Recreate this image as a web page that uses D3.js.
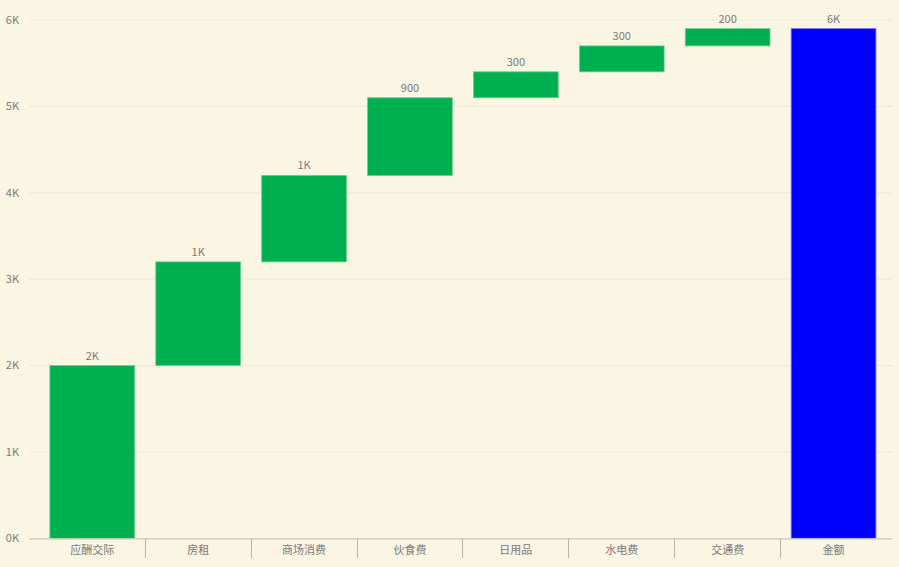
<!DOCTYPE html>
<html>
<head>
<meta charset="utf-8" />
<title>Waterfall</title>
<style>
html, body { margin: 0; padding: 0; background: #fbf5e3; }
#chart { width: 899px; height: 567px; }
text { font-family: "Segoe UI", "Noto Sans CJK SC", "Noto Sans", sans-serif; }
</style>
</head>
<body>
<div id="chart"></div>
<script src="https://cdn.jsdelivr.net/npm/d3@7/dist/d3.min.js"></script>
<script>
// data
var categories = ["应酬交际", "房租", "商场消费", "伙食费", "日用品", "水电费", "交通费", "金额"]
var amounts = [2000, 1200, 1000, 900, 300, 300, 200]
var totalLabel = "金额"
var yTicks = [0, 1000, 2000, 3000, 4000, 5000, 6000]

!(function(){
    "use strict"

    var width = 899, height = 567
    var svg = d3.select("#chart").append("svg")
        .attr("width", width).attr("height", height)

    // cumulative steps
    var rows = [], run = 0
    amounts.forEach(function(v, i) {
        rows.push({ name: categories[i], start: run, end: run + v, value: v, total: false })
        run += v
    })
    rows.push({ name: totalLabel, start: 0, end: run, value: run, total: true })

    var x = d3.scaleBand().domain(categories).range([39.3, 886.5]).paddingInner(0.2).paddingOuter(0.1)
    var y = d3.scaleLinear().domain([0, 6000]).range([538.3, 20])

    var fmt = function(v) { return v >= 1000 ? Math.round(v / 1000) + "K" : String(v) }

    // gridlines
    svg.append("g").selectAll("line").data(yTicks.slice(1)).enter().append("line")
        .attr("x1", 29).attr("x2", 892)
        .attr("y1", function(d) { return y(d) }).attr("y2", function(d) { return y(d) })
        .attr("stroke", "#eee9d8").attr("stroke-width", 1)

    // y labels
    svg.append("g").selectAll("text").data(yTicks).enter().append("text")
        .attr("x", 19).attr("y", function(d) { return y(d) })
        .attr("dy", "0.35em").attr("text-anchor", "end")
        .attr("font-size", 11).attr("fill", "#7a7a7a")
        .text(function(d) { return (d / 1000) + "K" })

    // bars
    svg.append("g").selectAll("rect").data(rows).enter().append("rect")
        .attr("x", function(d) { return x(d.name) })
        .attr("width", x.bandwidth())
        .attr("y", function(d) { return y(d.end) })
        .attr("height", function(d) { return y(d.start) - y(d.end) })
        .attr("fill", function(d) { return d.total ? "#0000ff" : "#00b050" })
        .attr("stroke", function(d) { return d.total ? "#7070ff" : "#66d08f" })
        .attr("stroke-width", 0.8)

    // value labels
    svg.append("g").selectAll("text").data(rows).enter().append("text")
        .attr("x", function(d) { return x(d.name) + x.bandwidth() / 2 })
        .attr("y", function(d) { return y(d.end) - 6 })
        .attr("text-anchor", "middle")
        .attr("font-size", 11).attr("fill", "#7a7a7a")
        .text(function(d) { return fmt(d.value) })

    // x axis
    var xAxis = svg.append("g")
    xAxis.append("line")
        .attr("x1", 29).attr("x2", 892).attr("y1", 538.8).attr("y2", 538.8)
        .attr("stroke", "#c9c5b9").attr("stroke-width", 1.2)
    var step = x.step()
    var seps = categories.slice(1).map(function(c) { return x(c) - step * 0.1 })
    xAxis.selectAll(".sep").data(seps).enter().append("line")
        .attr("class", "sep")
        .attr("x1", function(d) { return Math.floor(d) + 0.5 }).attr("x2", function(d) { return Math.floor(d) + 0.5 })
        .attr("y1", 538).attr("y2", 558)
        .attr("stroke", "#b9b5aa").attr("stroke-width", 1)
    xAxis.selectAll("text").data(categories).enter().append("text")
        .attr("x", function(d) { return x(d) + x.bandwidth() / 2 })
        .attr("y", 550).attr("dy", "0.35em")
        .attr("text-anchor", "middle")
        .attr("font-size", 11).attr("fill", "#7a7a7a")
        .text(function(d) { return d })
}());
</script>
</body>
</html>
